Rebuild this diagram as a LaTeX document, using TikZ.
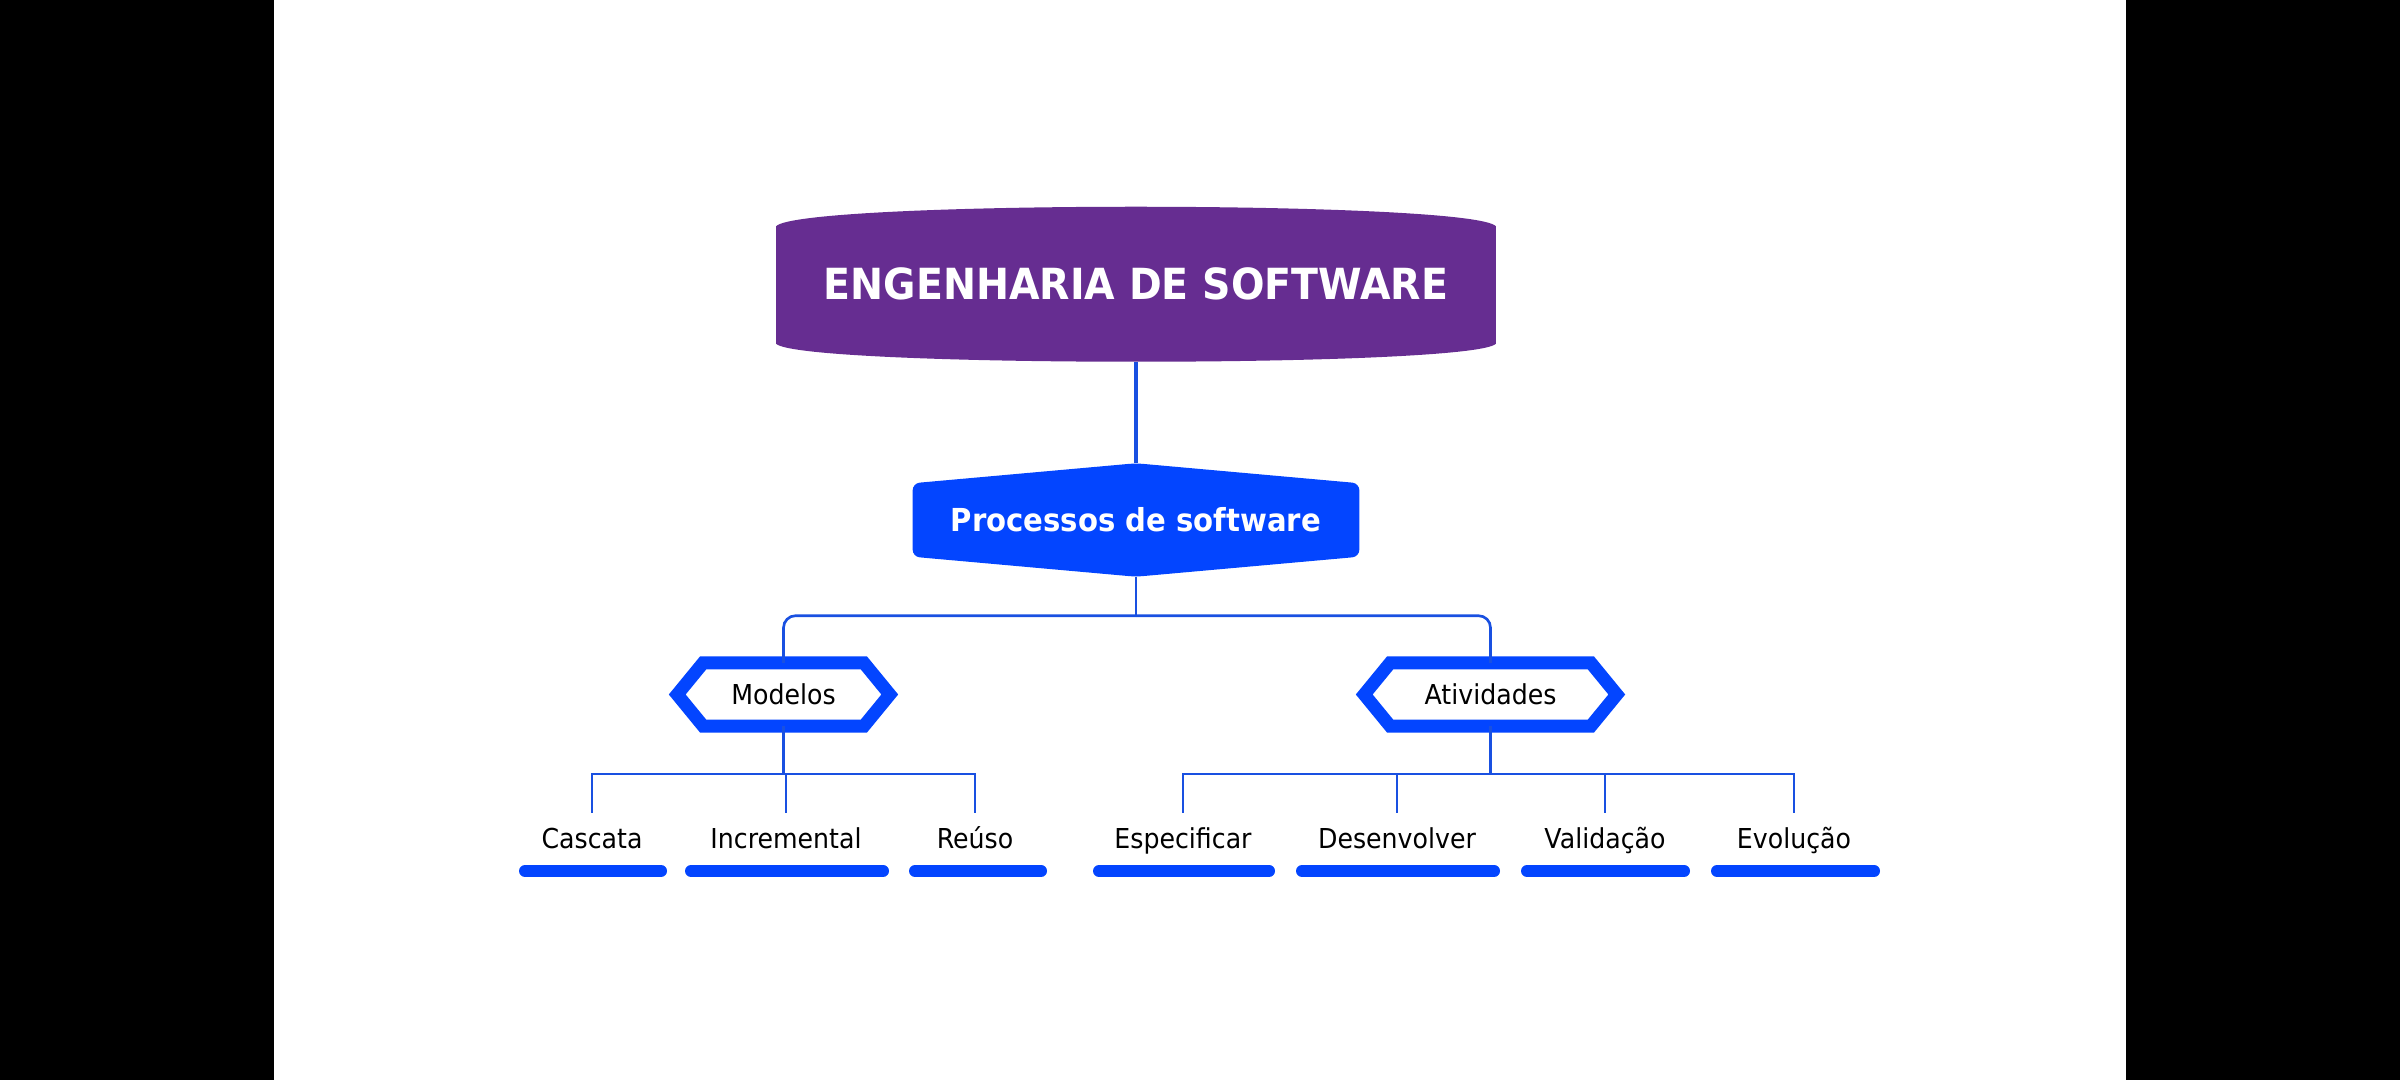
\documentclass[tikz,border=0pt]{standalone}
\usepackage{fontspec}
\setmainfont{DejaVu Sans}[FakeStretch=0.92]
\usetikzlibrary{calc,backgrounds}
\definecolor{purp}{RGB}{102,45,145}
\definecolor{bblue}{RGB}{3,69,255}
\definecolor{lblue}{RGB}{25,80,225}
\begin{document}
\begin{tikzpicture}[x=0.01cm,y=-0.01cm,
  link/.style={draw=lblue, line width=0.75pt, rounded corners=0.12cm},
  thinl/.style={draw=lblue, line width=0.6pt},
  hexb/.style={draw=bblue, line width=0.13cm, fill=white, line join=miter},
  bar/.style={draw=bblue, line width=0.12cm, line cap=round},
  leaf/.style={font=\fontsize{7.8}{9}\selectfont, text height=5.8pt, text depth=1.6pt, inner xsep=0pt, inner ysep=0.15cm, anchor=base},
  box/.style={inner sep=0pt, draw=none}
]
\useasboundingbox (0,0) rectangle (2400,1080);
\begin{scope}[on background layer]
  \fill[black] (0,0) rectangle (274,1080);
  \fill[white] (274,0) rectangle (2126,1080);
  \fill[black] (2126,0) rectangle (2400,1080);
\end{scope}

% top node
\node[box, minimum width=7.18cm, minimum height=1.54cm, text=white,
      font=\bfseries\fontsize{12.2}{14}\selectfont] (eng) at (1136,284) {ENGENHARIA DE SOFTWARE};
\begin{scope}[on background layer]
  \fill[purp] ($(eng.north west)+(0,20)$) .. controls ($(eng.north west)+(24,-6)$) and ($(eng.north east)+(-24,-6)$) .. ($(eng.north east)+(0,20)$)
     -- ($(eng.south east)+(0,-18)$) .. controls ($(eng.south east)+(-24,6)$) and ($(eng.south west)+(24,6)$) .. ($(eng.south west)+(0,-18)$) -- cycle;
\end{scope}

% processos
\node[box, minimum width=4.45cm, minimum height=1.12cm, text=white,
      font=\bfseries\fontsize{9}{11}\selectfont] (proc) at (1136,520) {Processos de software};
\begin{scope}[on background layer]
  \fill[bblue, rounded corners=0.07cm] ($(proc.north west)+(0,20)$) -- (proc.north) -- ($(proc.north east)+(0,20)$)
     -- ($(proc.south east)+(0,-20)$) -- (proc.south) -- ($(proc.south west)+(0,-20)$) -- cycle;
\end{scope}

% hexagons
\node[box, minimum width=2.11cm, minimum height=0.62cm, font=\fontsize{7.8}{9}\selectfont] (mod) at (783.5,694.5) {Modelos};
\node[box, minimum width=2.51cm, minimum height=0.62cm, font=\fontsize{7.8}{9}\selectfont] (atv) at (1490.5,694.5) {Atividades};
\begin{scope}[on background layer]
  \draw[hexb] (mod.west) -- ($(mod.north west)+(26,0)$) -- ($(mod.north east)+(-26,0)$) -- (mod.east)
     -- ($(mod.south east)+(-26,0)$) -- ($(mod.south west)+(26,0)$) -- cycle;
  \draw[hexb] (atv.west) -- ($(atv.north west)+(26,0)$) -- ($(atv.north east)+(-26,0)$) -- (atv.east)
     -- ($(atv.south east)+(-26,0)$) -- ($(atv.south west)+(26,0)$) -- cycle;
\end{scope}

% leaves
\node[leaf] (casc) at (592,849) {Cascata};
\node[leaf] (incr) at (786,849) {Incremental};
\node[leaf] (reuso) at (975,849) {Reúso};
\node[leaf] (espec) at (1183,849) {Especificar};
\node[leaf] (desen) at (1397,849) {Desenvolver};
\node[leaf] (valid) at (1605,849) {Validação};
\node[leaf] (evol) at (1794,849) {Evolução};

% connectors
\draw[draw=lblue, line width=1pt] (eng.south) -- (proc.north);
\coordinate (j1) at ($(proc.south)+(0,39)$);
\draw[thinl] (proc.south) -- (j1);
\draw[link] (j1) -| (mod.north);
\draw[link] (j1) -| (atv.north);

\coordinate (j2) at ($(mod.south)+(0,47.5)$);
\draw[thinl] (mod.south) -- (j2);
\draw[thinl] (casc.north) |- (j2) -| (reuso.north);
\draw[thinl] (incr.north) -- (incr.north |- j2);

\coordinate (j3) at ($(atv.south)+(0,47.5)$);
\draw[thinl] (atv.south) -- (j3);
\draw[thinl] (espec.north) |- (j3) -| (evol.north);
\draw[thinl] (desen.north) -- (desen.north |- j3);
\draw[thinl] (valid.north) -- (valid.north |- j3);

% bars
\draw[bar] (525,871) -- (661,871);
\draw[bar] (691,871) -- (883,871);
\draw[bar] (915,871) -- (1041,871);
\draw[bar] (1099,871) -- (1269,871);
\draw[bar] (1302,871) -- (1494,871);
\draw[bar] (1527,871) -- (1684,871);
\draw[bar] (1717,871) -- (1874,871);
\end{tikzpicture}
\end{document}
